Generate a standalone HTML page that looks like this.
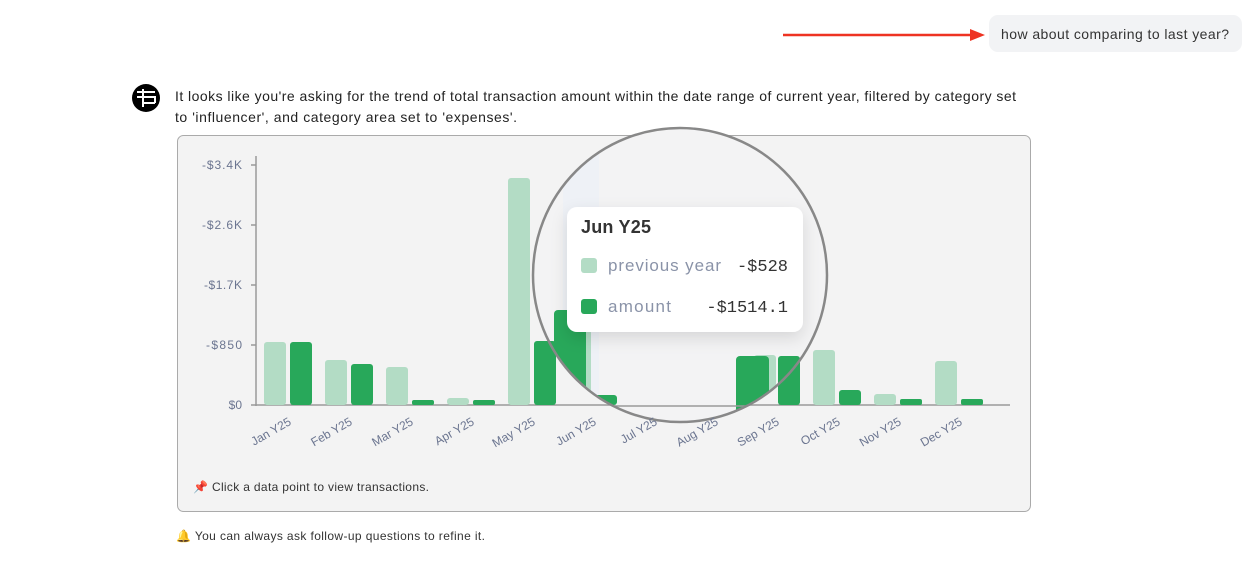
<!DOCTYPE html>
<html><head><style>
body{margin:0;width:1246px;height:561px;background:#fff;font-family:"Liberation Sans",sans-serif;overflow:hidden;position:relative}
</style></head><body>
<svg width="1246" height="561" style="position:absolute;left:0;top:0" font-family="Liberation Sans, sans-serif">
<defs>
<clipPath id="c"><circle cx="680" cy="275" r="147"/></clipPath>
<filter id="sh" x="-20%" y="-20%" width="140%" height="160%"><feDropShadow dx="0" dy="6" stdDeviation="8" flood-color="#000" flood-opacity="0.12"/></filter>
</defs>
<line x1="783" y1="35" x2="972" y2="35" stroke="#ee3322" stroke-width="2.5"/>
<polygon points="970,29 985,35 970,41" fill="#ee3322"/>
<rect x="989" y="15" width="253" height="37" rx="9" fill="#f2f3f5"/>
<text x="1001" y="39" font-size="14" fill="#333" textLength="228" lengthAdjust="spacing">how about comparing to last year?</text>
<circle cx="146" cy="98" r="14" fill="#000"/>
<path d="M137 92h18M137 97h18v6M143 89v18M143 103h12" stroke="#fff" stroke-width="2" fill="none"/>
<text x="175" y="101" font-size="14" fill="#222" textLength="841" lengthAdjust="spacing">It looks like you're asking for the trend of total transaction amount within the date range of current year, filtered by category set</text>
<text x="175" y="122" font-size="14" fill="#222" textLength="342" lengthAdjust="spacing">to 'influencer', and category area set to 'expenses'.</text>
<rect x="177.5" y="135.5" width="853" height="376" rx="6" fill="#f3f3f3" stroke="#aaa"/>
<g font-size="12" fill="#6b7590" text-anchor="end">
<text x="242" y="169" textLength="40" lengthAdjust="spacing">-$3.4K</text><text x="242" y="229" textLength="40" lengthAdjust="spacing">-$2.6K</text><text x="242" y="289" textLength="38" lengthAdjust="spacing">-$1.7K</text><text x="242" y="349" textLength="36" lengthAdjust="spacing">-$850</text><text x="242" y="409">$0</text>
</g>
<g stroke="#999" stroke-width="1.5">
<line x1="256" y1="156" x2="256" y2="406"/><line x1="256" y1="405" x2="1010" y2="405"/>
<line x1="251" y1="165" x2="256" y2="165"/><line x1="251" y1="225" x2="256" y2="225"/><line x1="251" y1="285" x2="256" y2="285"/><line x1="251" y1="345" x2="256" y2="345"/><line x1="251" y1="405" x2="256" y2="405"/>
</g>
<g fill="#b3dcc5">
<rect x="264" y="342" width="22" height="63" rx="3"/><rect x="325" y="360" width="22" height="45" rx="3"/><rect x="386" y="367" width="22" height="38" rx="3"/><rect x="447" y="398" width="22" height="7" rx="3"/><rect x="508" y="178" width="22" height="227" rx="3"/><rect x="813" y="350" width="22" height="55" rx="3"/><rect x="874" y="394" width="22" height="11" rx="3"/><rect x="935" y="361" width="22" height="44" rx="3"/>
</g>
<g fill="#28a85a">
<rect x="290" y="342" width="22" height="63" rx="3"/><rect x="351" y="364" width="22" height="41" rx="3"/><rect x="412" y="400" width="22" height="5" rx="2"/><rect x="473" y="400" width="22" height="5" rx="2"/><rect x="534" y="341" width="22" height="64" rx="3"/><rect x="778" y="356" width="22" height="49" rx="3"/><rect x="839" y="390" width="22" height="15" rx="3"/><rect x="900" y="399" width="22" height="6" rx="2"/><rect x="961" y="399" width="22" height="6" rx="2"/>
</g>
<g clip-path="url(#c)">
<rect x="500" y="120" width="360" height="320" fill="#f3f3f4"/>
<rect x="563" y="120" width="36" height="300" fill="#eef1f6"/>
<rect x="534" y="341" width="22" height="64" rx="3" fill="#28a85a"/>
<rect x="569" y="330" width="22" height="75" rx="3" fill="#b3dcc5"/>
<rect x="554" y="310" width="32" height="95" rx="4" fill="#28a85a"/>
<rect x="595" y="395" width="22" height="10" rx="3" fill="#28a85a"/>
<rect x="754" y="355" width="22" height="60" rx="3" fill="#b3dcc5"/>
<rect x="736" y="356" width="33" height="70" rx="4" fill="#28a85a"/>
<rect x="778" y="356" width="22" height="49" rx="3" fill="#28a85a"/>
<line x1="500" y1="406" x2="860" y2="406" stroke="#999" stroke-width="1.5"/>
<rect x="567" y="207" width="236" height="125" rx="10" fill="#fff" filter="url(#sh)"/>
<text x="581" y="233" font-size="18" fill="#333" font-weight="bold" textLength="70" lengthAdjust="spacing">Jun Y25</text>
<rect x="581" y="258" width="16" height="15" rx="3" fill="#b3dcc5"/>
<text x="608" y="271" font-size="17" fill="#8a93a8" textLength="113" lengthAdjust="spacing">previous year</text>
<text x="788" y="271" font-size="17" fill="#333" text-anchor="end" font-family="Liberation Mono, monospace">-$528</text>
<rect x="581" y="299" width="16" height="15" rx="3" fill="#28a85a"/>
<text x="608" y="312" font-size="17" fill="#8a93a8" textLength="63" lengthAdjust="spacing">amount</text>
<text x="788" y="312" font-size="17" fill="#333" text-anchor="end" font-family="Liberation Mono, monospace">-$1514.1</text>
</g>
<circle cx="680" cy="275" r="147" fill="none" stroke="#888" stroke-width="2.5"/>
<g font-size="12" fill="#6b7590" text-anchor="end">
<text transform="translate(292,424) rotate(-30)">Jan Y25</text>
<text transform="translate(353,424) rotate(-30)">Feb Y25</text>
<text transform="translate(414,424) rotate(-30)">Mar Y25</text>
<text transform="translate(475,424) rotate(-30)">Apr Y25</text>
<text transform="translate(536,424) rotate(-30)">May Y25</text>
<text transform="translate(597,424) rotate(-30)">Jun Y25</text>
<text transform="translate(658,424) rotate(-30)">Jul Y25</text>
<text transform="translate(719,424) rotate(-30)">Aug Y25</text>
<text transform="translate(780,424) rotate(-30)">Sep Y25</text>
<text transform="translate(841,424) rotate(-30)">Oct Y25</text>
<text transform="translate(902,424) rotate(-30)">Nov Y25</text>
<text transform="translate(963,424) rotate(-30)">Dec Y25</text>
</g>
<text x="193" y="491" font-size="12" fill="#333" textLength="236" lengthAdjust="spacing">📌 Click a data point to view transactions.</text>
<text x="176" y="540" font-size="12" fill="#333" textLength="309" lengthAdjust="spacing">🔔 You can always ask follow-up questions to refine it.</text>
</svg>
</body></html>
